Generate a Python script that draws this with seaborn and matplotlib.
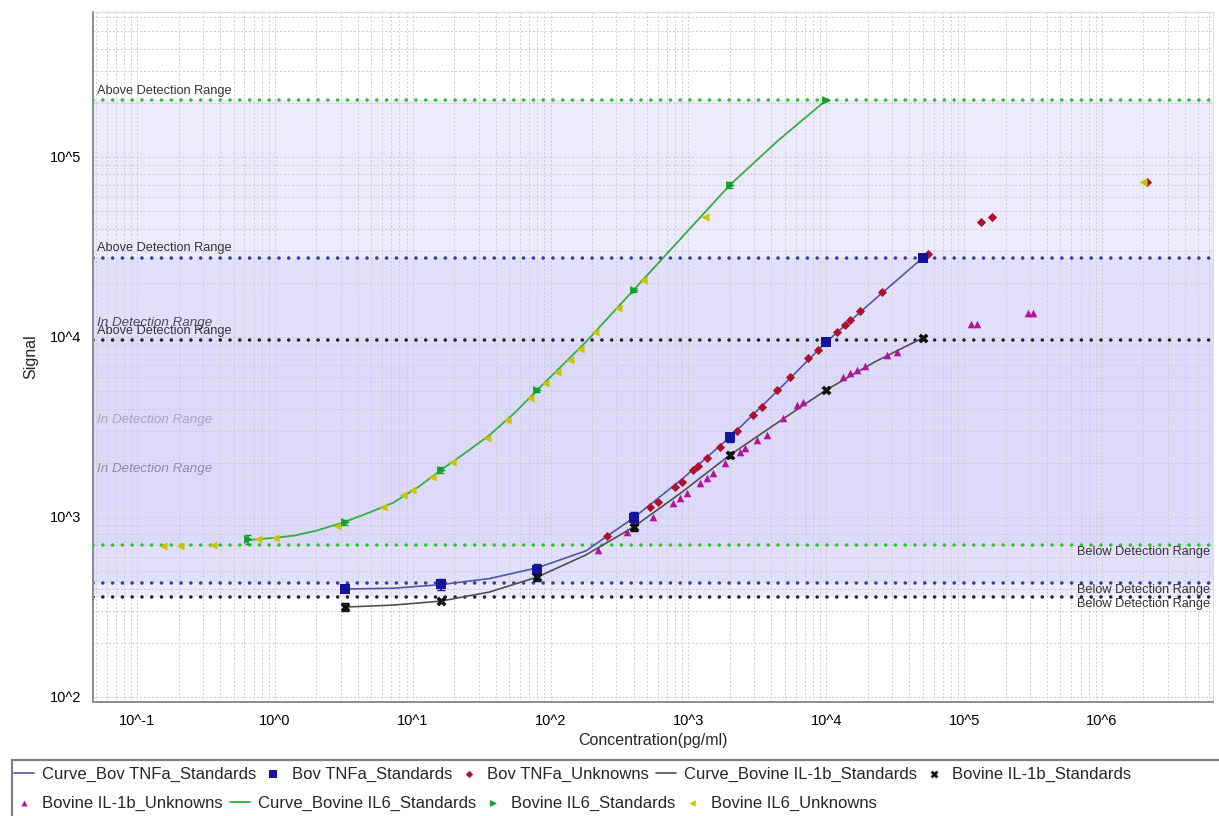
import numpy as np
import pandas as pd
import matplotlib
matplotlib.use("Agg")
import matplotlib.pyplot as plt
import matplotlib.transforms as mtransforms
from matplotlib.patches import Rectangle
from matplotlib.ticker import FixedLocator, FuncFormatter, LogLocator, NullFormatter
import seaborn as sns

# Standards (5-fold dilutions)
conc_std = [3.2, 16, 80, 400, 2000, 10000, 50000]
sig_std_tnf = [400, 425, 510, 990, 2780, 9380, 27500]
err_std_tnf = [14, 30, 35, 70, 160, 350, 700]
sig_std_il1b = [316, 341, 464, 880, 2210, 5080, 9870]
err_std_il1b = [16, 10, 22, 40, 90, 150, 300]
conc_std_il6 = [0.64, 3.2, 16, 80, 400, 2000, 10000]
sig_std_il6 = [750, 938, 1825, 5080, 18240, 69900, 207000]
err_std_il6 = [45, 30, 60, 150, 500, 3000, 3000]

# Fitted curves
curve_x = [3.2, 7.2, 16, 36, 80, 180, 400, 900, 2000, 4500, 10000, 22500, 50000]
curve_tnf = [398, 402, 421, 455, 522, 648, 990, 1626, 2780, 5080, 9380, 16200, 27500]
curve_il1b = [316, 324, 341, 383, 464, 615, 880, 1377, 2210, 3370, 5080, 7270, 9870]
curve_il6_x = [0.64, 1.0, 1.4, 2.0, 3.2, 5.0, 7.2, 11, 16, 24, 36, 55, 80, 180, 400, 900,
               2000, 4500, 10000]
curve_il6 = [745, 766, 790, 840, 938, 1070, 1200, 1470, 1825, 2270, 2850, 3800, 5080, 9380,
             18240, 35900, 69900, 124000, 207000]

# Unknowns
unk_tnf_x = [257, 526, 601, 800, 899, 1080, 1175, 1365, 1696, 2254, 2946, 3423, 4398, 5460,
             7380, 8710, 11970, 13680, 14890, 17590, 25400, 54800, 133000, 160000, 2130000]
unk_tnf_y = [783, 1136, 1211, 1468, 1565, 1825, 1920, 2128, 2450, 3005, 3690, 4085, 5080, 5995,
             7640, 8470, 10660, 11660, 12420, 13930, 17780, 28900, 43500, 46400, 72600]
unk_il1b_x = [221, 358, 553, 773, 869, 977, 1214, 1365, 1508, 1844, 2368, 2574, 3147, 3718,
              4856, 6134, 6787, 13240, 14890, 16750, 19150, 27610, 32650,
              112000, 124000, 291000, 317000]
unk_il1b_y = [656, 826, 1000, 1196, 1275, 1359, 1545, 1648, 1756, 1995, 2297, 2417, 2677, 2855,
              3548, 4188, 4355, 5995, 6310, 6560, 6905, 7945, 8260,
              11800, 11800, 13600, 13600]
unk_il6_x = [0.154, 0.205, 0.355, 0.753, 1.0, 2.82, 6.09, 8.49, 9.86, 13.8, 19.2, 34.5, 48.3,
             70.8, 91, 111, 138, 163, 210, 308, 468, 1320, 1990000]
unk_il6_y = [690, 690, 699, 752, 766, 890, 1140, 1330, 1420, 1660, 2020, 2760, 3460,
             4580, 5550, 6350, 7450, 8600, 10660, 14500, 20700, 46400, 72600]

# Detection range limits: IL6, TNFa, IL-1b
range_colors = ["#33c033", "#3b3b9c", "#262626"]
upper_levels = [207000, 27500, 9600]
lower_levels = [699, 430, 360]
in_range_colors = ["#4a4a5a", "#a6a6c0", "#8a8aa4"]

c_tnf_line, c_tnf = "#5454aa", "#14149a"
c_tnf_unk = "#b0102c"
c_il1b_line, c_il1b = "#505050", "#111111"
c_il1b_unk = "#b4149c"
c_il6_line, c_il6 = "#30b040", "#10a030"
c_il6_unk = "#c8c400"

sns.set_style("white")
plt.rcParams["font.family"] = ["Liberation Sans", "DejaVu Sans"]

fig = plt.figure(figsize=(12.19, 8.16), dpi=100)
ax = fig.add_axes([93 / 1219, 1 - 702 / 816, 1120 / 1219, 690 / 816])
ax.set_xscale("log")
ax.set_yscale("log")

# shaded detection bands
for lo, hi in zip(lower_levels, upper_levels):
    ax.axhspan(lo, hi, color="#d6d2fa", alpha=0.45, lw=0, zorder=0.2)

ax.grid(True, which="both", linestyle=(0, (2, 2)), color="#cdcdcd", linewidth=0.7, zorder=0.1)
ax.set_axisbelow(True)

# detection lines
for lvl, lo, col in zip(upper_levels, lower_levels, range_colors):
    ax.axhline(lvl, color=col, lw=2.6, linestyle=(0, (0.01, 2.7)), dash_capstyle="round", zorder=2)
    ax.axhline(lo, color=col, lw=2.6, linestyle=(0, (0.01, 2.7)), dash_capstyle="round", zorder=2)

# TNFa
sns.lineplot(x=curve_x, y=curve_tnf, color=c_tnf_line, lw=1.2, ax=ax, label="Curve_Bov TNFa_Standards", zorder=3)
ax.errorbar(conc_std, sig_std_tnf, yerr=err_std_tnf, fmt="none", ecolor=c_tnf, capsize=3, lw=1.2, zorder=4)
sns.scatterplot(x=conc_std, y=sig_std_tnf, marker="s", s=42, color=c_tnf, linewidth=0, ax=ax,
                label="Bov TNFa_Standards", zorder=5)
sns.scatterplot(x=unk_tnf_x, y=unk_tnf_y, marker="D", s=22, color=c_tnf_unk, linewidth=0, ax=ax,
                label="Bov TNFa_Unknowns", zorder=4)

# IL-1b
sns.lineplot(x=curve_x, y=curve_il1b, color=c_il1b_line, lw=1.2, ax=ax, label="Curve_Bovine IL-1b_Standards", zorder=3)
ax.errorbar(conc_std, sig_std_il1b, yerr=err_std_il1b, fmt="none", ecolor=c_il1b, capsize=3, lw=1.2, zorder=4)
sns.scatterplot(x=conc_std, y=sig_std_il1b, marker="X", s=50, color=c_il1b, linewidth=0, ax=ax,
                label="Bovine IL-1b_Standards", zorder=5)
sns.scatterplot(x=unk_il1b_x, y=unk_il1b_y, marker="^", s=30, color=c_il1b_unk, linewidth=0, ax=ax,
                label="Bovine IL-1b_Unknowns", zorder=4)

# IL6
sns.lineplot(x=curve_il6_x, y=curve_il6, color=c_il6_line, lw=1.3, ax=ax, label="Curve_Bovine IL6_Standards", zorder=3)
ax.errorbar(conc_std_il6, sig_std_il6, yerr=err_std_il6, fmt="none", ecolor=c_il6, capsize=2.5, lw=1.2, zorder=4)
sns.scatterplot(x=conc_std_il6, y=sig_std_il6, marker=">", s=40, color=c_il6, linewidth=0, ax=ax,
                label="Bovine IL6_Standards", zorder=5)
sns.scatterplot(x=unk_il6_x, y=unk_il6_y, marker="<", s=34, color=c_il6_unk, linewidth=0, ax=ax,
                label="Bovine IL6_Unknowns", zorder=4)

handles, labels = ax.get_legend_handles_labels()
if ax.get_legend() is not None:
    ax.get_legend().remove()

ax.set_xlim(0.0478, 6.4e6)
ax.set_ylim(93.8, 6.39e5)

# range text labels
trans = mtransforms.blended_transform_factory(ax.transAxes, ax.transData)
for lvl, lo, col in zip(upper_levels, lower_levels, in_range_colors):
    ax.annotate("Above Detection Range", xy=(0.004, lvl), xycoords=trans, xytext=(0, 2.5),
                textcoords="offset points", va="bottom", ha="left", fontsize=9.2, color="#333333", zorder=6)
    ax.text(0.004, np.sqrt(lvl * lo), "In Detection Range", transform=trans, va="center", ha="left",
            fontsize=9.6, style="italic", color=col, zorder=6)
    ax.annotate("Below Detection Range", xy=(0.879, lo), xycoords=trans, xytext=(0, -0.5),
                textcoords="offset points", va="top", ha="left", fontsize=9.2, color="#333333", zorder=6)

# axes styling
ax.xaxis.set_major_locator(FixedLocator([10.0 ** k for k in range(-1, 7)]))
ax.yaxis.set_major_locator(FixedLocator([10.0 ** k for k in range(2, 6)]))
ax.xaxis.set_minor_locator(LogLocator(base=10, subs=np.arange(2, 10)))
ax.yaxis.set_minor_locator(LogLocator(base=10, subs=np.arange(2, 10)))
ax.xaxis.set_minor_formatter(NullFormatter())
ax.yaxis.set_minor_formatter(NullFormatter())
fmt = FuncFormatter(lambda v, p: "10^%d" % int(round(np.log10(v))))
ax.xaxis.set_major_formatter(fmt)
ax.yaxis.set_major_formatter(fmt)
ax.tick_params(which="both", direction="out", color="#888888", labelsize=10.5, labelcolor="black")
ax.tick_params(which="major", length=5, width=1)
ax.tick_params(which="minor", length=3, width=0.8)
for side in ["left", "bottom"]:
    ax.spines[side].set_color("#8c8c8c")
    ax.spines[side].set_linewidth(1.4)
for side in ["top", "right"]:
    ax.spines[side].set_color("#dddddd")
    ax.spines[side].set_linewidth(0.8)

ax.set_xlabel("Concentration(pg/ml)", fontsize=11.5, labelpad=4)
ax.set_ylabel("Signal", fontsize=11.5, labelpad=8)

# legend box along the bottom
fig.patches.append(Rectangle((12 / 1219, -0.05), 1.05, 0.05 + (1 - 760 / 816), transform=fig.transFigure,
                             fill=False, edgecolor="#808080", lw=1.6, clip_on=False))
leg_kw = dict(frameon=False, loc="center left", borderpad=0, borderaxespad=0, fontsize=12,
              handlelength=1.2, handletextpad=0.5, columnspacing=0.4, markerscale=0.8)
fig.legend(handles[:5], labels[:5], ncol=5, bbox_to_anchor=(14 / 1219, 1 - 774 / 816), **leg_kw)
fig.legend(handles[5:], labels[5:], ncol=4, bbox_to_anchor=(14 / 1219, 1 - 803 / 816), **leg_kw)

fig.savefig("out.png", dpi=100)
